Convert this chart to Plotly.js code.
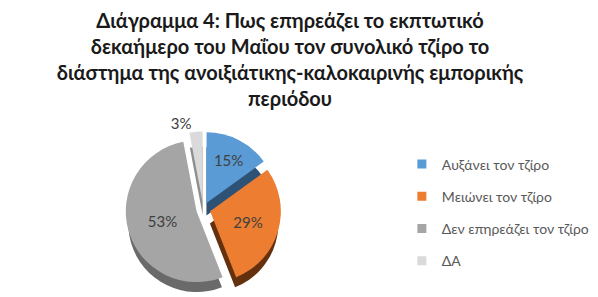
<!DOCTYPE html>
<html>
<head>
<meta charset="utf-8">
<script src="https://cdn.plot.ly/plotly-3.0.1.min.js"></script>
<style>html,body{margin:0;padding:0;background:#fff;}#chart{width:598px;height:297px;}</style>
</head>
<body>
<div id="chart"></div>
<script>
const categories = ["Αυξάνει τον τζίρο", "Μειώνει τον τζίρο", "Δεν επηρεάζει τον τζίρο", "ΔΑ"];
const shares = [15, 29, 53, 3];
const titleText = "Διάγραμμα 4: Πως επηρεάζει το εκπτωτικό<br>δεκαήμερο του Μαΐου τον συνολικό τζίρο το<br>διάστημα της ανοιξιάτικης-καλοκαιρινής εμπορικής<br>περιόδου";

const topColors = ["#5B9BD5", "#ED7D31", "#A5A5A5", "#DADADA"];
const sideColors = ["#2E5275", "#64310F", "#6A6A6A", "#8E8E8E"];
const pulls = [0.1, 0.1, 0.1, 0.1];

const cyTop = 0.295, half = 0.262, depth = 0.05;

const traces = [
  {
    type: "pie", labels: categories, values: shares, sort: false, direction: "clockwise", rotation: 0,
    pull: pulls, marker: {colors: sideColors, line: {width: 0}},
    textinfo: "none", hoverinfo: "skip", showlegend: false,
    domain: {x: [0, 0.68], y: [cyTop - depth - half, cyTop - depth + half]}
  },
  {
    type: "pie", labels: categories, values: shares, sort: false, direction: "clockwise", rotation: 0,
    pull: pulls, marker: {colors: topColors, line: {width: 0}},
    texttemplate: "%{value}%", textposition: ["inside", "inside", "inside", "outside"],
    insidetextorientation: "horizontal",
    textfont: {family: "Lato, 'Open Sans', sans-serif", size: 15, color: "#404040"},
    outsidetextfont: {family: "Lato, 'Open Sans', sans-serif", size: 15, color: "#404040"},
    showlegend: false,
    domain: {x: [0, 0.68], y: [cyTop - half, cyTop + half]}
  }
];

categories.forEach((c, i) => {
  traces.push({
    type: "scatter", mode: "markers", x: [null], y: [null], name: c,
    legendgroup: "g" + i,
    marker: {symbol: "square", size: 9, color: topColors[i]},
    hoverinfo: "skip"
  });
});

const layout = {
  width: 598, height: 297,
  margin: {l: 0, r: 0, t: 0, b: 0},
  paper_bgcolor: "#ffffff", plot_bgcolor: "rgba(0,0,0,0)",
  title: {
    text: titleText, x: 0.485, xanchor: "center", y: 0.905, yanchor: "top",
    font: {family: "Lato, 'Open Sans', sans-serif", size: 20, color: "#1a1a1a", weight: "bold"}
  },
  xaxis: {visible: false, domain: [0.99, 1]},
  yaxis: {visible: false, domain: [0.99, 1]},
  showlegend: true,
  legend: {
    x: 0.672, y: 0.50, xanchor: "left", yanchor: "top",
    traceorder: "grouped", tracegroupgap: 11, itemwidth: 30,
    font: {family: "Lato, 'Open Sans', sans-serif", size: 14, color: "#595959"},
    bgcolor: "rgba(0,0,0,0)", itemclick: false, itemdoubleclick: false
  }
};

Plotly.newPlot("chart", traces, layout, {displayModeBar: false, staticPlot: true});
</script>
</body>
</html>
